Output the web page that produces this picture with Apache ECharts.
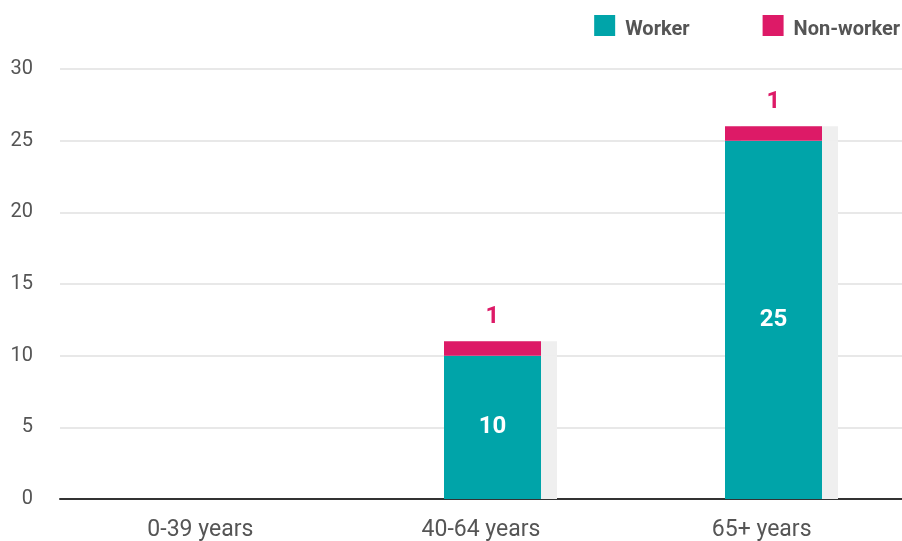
<!DOCTYPE html>
<html>
<head>
<meta charset="utf-8">
<script src="https://cdn.jsdelivr.net/npm/echarts@6/dist/echarts.min.js"></script>
<style>
html,body{margin:0;padding:0;background:#fff;}
#chart{width:902px;height:541px;}
</style>
</head>
<body>
<div id="chart"></div>
<script>
var categories = ['0-39 years', '40-64 years', '65+ years'];
var workerValues = [0, 10, 25];
var nonWorkerValues = [0, 1, 1];
var yTicks = [0, 5, 10, 15, 20, 25, 30];

var TEAL = '#00a4a9';
var PINK = '#dd1a67';
var GRAY = '#efefef';
var TEXT = '#555555';
var FONT = 'Roboto, "DejaVu Sans", sans-serif';

var chart = echarts.init(document.getElementById('chart'), null, {renderer: 'canvas'});

var option = {
  animation: false,
  backgroundColor: '#ffffff',
  textStyle: {fontFamily: FONT},
  legend: {
    data: ['Worker', 'Non-worker'],
    right: 2,
    top: 15,
    padding: 0,
    itemWidth: 21,
    itemHeight: 21,
    itemGap: 73,
    icon: 'rect',
    formatter: '{t|{name}}',
    textStyle: {
      color: TEXT, fontSize: 20, fontWeight: 'bold', fontFamily: FONT,
      rich: {t: {color: TEXT, fontSize: 20, fontWeight: 'bold', fontFamily: FONT, padding: [8, 0, 0, 5]}}
    }
  },
  grid: [
    {left: 60, right: 0, top: 69, bottom: 42, outerBoundsMode: 'none', containLabel: false},
    {left: 71, width: 843, top: 69, bottom: 42, outerBoundsMode: 'none', containLabel: false}
  ],
  xAxis: [
    {
      type: 'category',
      gridIndex: 0,
      data: categories,
      axisLine: {show: true, lineStyle: {color: '#333333', width: 2}},
      axisTick: {show: false},
      axisLabel: {color: TEXT, fontSize: 23, fontFamily: FONT, margin: 20}
    },
    {
      type: 'category',
      gridIndex: 1,
      data: categories,
      show: false
    }
  ],
  yAxis: [
    {
      type: 'value',
      gridIndex: 0,
      min: yTicks[0],
      max: yTicks[yTicks.length - 1],
      interval: yTicks[1] - yTicks[0],
      axisLine: {show: false},
      axisTick: {show: false},
      axisLabel: {color: TEXT, fontSize: 20, fontFamily: FONT, margin: 27},
      splitLine: {lineStyle: {color: '#e0e0e0', width: 1.5}}
    },
    {
      type: 'value',
      gridIndex: 1,
      min: yTicks[0],
      max: yTicks[yTicks.length - 1],
      interval: yTicks[1] - yTicks[0],
      show: false,
      splitLine: {show: false}
    }
  ],
  series: [
    {
      name: 'Worker',
      type: 'bar',
      stack: 'total',
      xAxisIndex: 1,
      yAxisIndex: 1,
      barWidth: 97,
      data: workerValues,
      itemStyle: {color: TEAL, shadowColor: GRAY, shadowOffsetX: 16, shadowOffsetY: 0, shadowBlur: 0},
      label: {
        show: true,
        position: 'inside',
        color: '#ffffff',
        fontSize: 24,
        fontWeight: 'bold',
        fontFamily: FONT,
        formatter: function (p) { return p.value ? String(p.value) : ''; }
      }
    },
    {
      name: 'Non-worker',
      type: 'bar',
      stack: 'total',
      xAxisIndex: 1,
      yAxisIndex: 1,
      barWidth: 97,
      data: nonWorkerValues,
      itemStyle: {color: PINK, shadowColor: GRAY, shadowOffsetX: 16, shadowOffsetY: 0, shadowBlur: 0},
      label: {
        show: true,
        position: 'top',
        distance: 12,
        color: PINK,
        fontSize: 24,
        fontWeight: 'bold',
        fontFamily: FONT,
        formatter: function (p) { return p.value ? String(p.value) : ''; }
      }
    }
  ]
};

chart.setOption(option);
</script>
</body>
</html>
